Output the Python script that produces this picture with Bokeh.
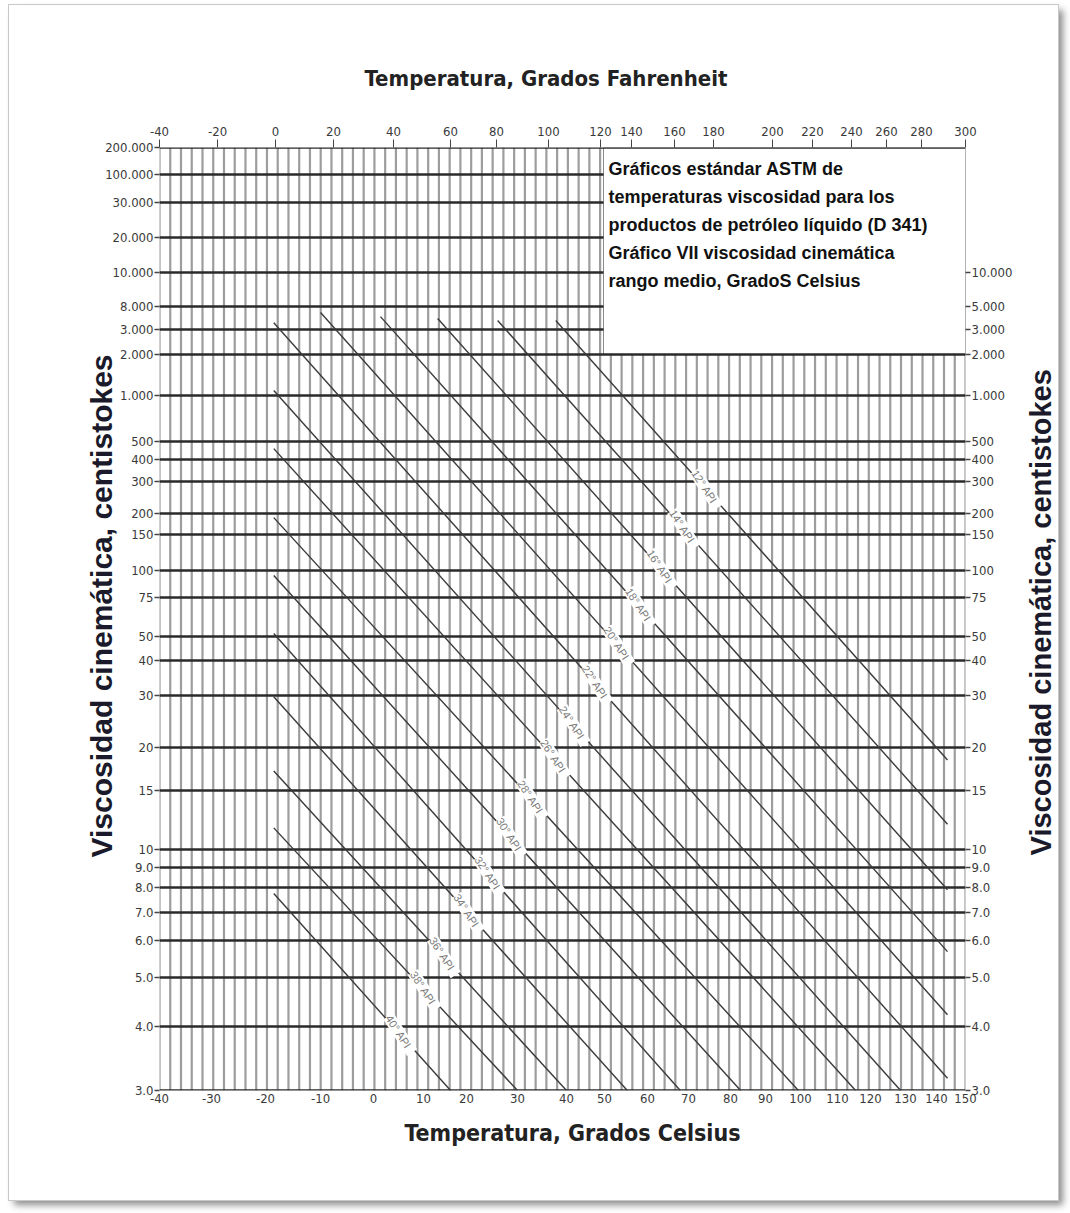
import numpy as np
from bokeh.plotting import figure
from bokeh.layouts import row
from bokeh.models import (Range1d, LinearAxis, FixedTicker, CustomJSTickFormatter,
                          ColumnDataSource, Title)
from bokeh.core.properties import value
from bokeh.embed import file_html
from bokeh.resources import INLINE

# ---------------------------------------------------------------------------
# Data: each API gravity is a straight line given by its two end points
# (temperature in degrees Celsius, kinematic viscosity in centistokes).
# ---------------------------------------------------------------------------
api_gravity = [12, 14, 16, 18, 20, 22, 24, 26, 28, 30, 32, 34, 36, 38, 40]
start_temp_c = [37.8, 26.1, 13.3, 1.4, -10.0, -18.5, -18.5, -18.5, -18.5,
                -18.5, -18.5, -18.5, -18.5, -18.5, -18.5]
start_visc = [4400, 4400, 4800, 5200, 6200, 4000, 1090, 458, 189,
              94.8, 51.6, 29.7, 17.1, 11.6, 7.75]
end_temp_c = [143.8, 143.8, 143.8, 143.8, 143.8, 143.8, 128.6, 115.5, 99.4,
              82.9, 68.0, 55.3, 40.0, 30.0, 16.3]
end_visc = [18.4, 11.9, 7.9, 5.68, 4.22, 3.17, 3.0, 3.0, 3.0,
            3.0, 3.0, 3.0, 3.0, 3.0, 3.0]

# ---------------------------------------------------------------------------
# Axis scales of the chart sheet (tick value -> fraction of the axis length)
# ---------------------------------------------------------------------------
celsius_ticks = [-40, -30, -20, -10, 0, 10, 20, 30, 40, 50, 60, 70, 80, 90,
                 100, 110, 120, 130, 140, 150]
celsius_at = [0.0, 0.0645, 0.1315, 0.1998, 0.2655, 0.3275, 0.3809, 0.4442,
              0.5050, 0.5521, 0.6055, 0.6563, 0.7084, 0.7519, 0.7953, 0.8412,
              0.8821, 0.9256, 0.9640, 1.0]

fahrenheit_ticks = [-40, -20, 0, 20, 40, 60, 80, 100, 120, 140, 160, 180,
                    200, 220, 240, 260, 280, 300]
fahrenheit_at = [0.0, 0.0720, 0.1439, 0.2159, 0.2903, 0.3610, 0.4181, 0.4826,
                 0.5471, 0.5856, 0.6390, 0.6873, 0.7605, 0.8102, 0.8586,
                 0.9020, 0.9454, 1.0]

visc_ticks = [3, 4, 5, 6, 7, 8, 9, 10, 15, 20, 30, 40, 50, 75, 100, 150, 200,
              300, 400, 500, 1000, 2000, 3000, 8000, 10000, 20000, 30000,
              100000, 200000]
visc_at = [0.0, 0.0679, 0.1198, 0.1591, 0.1888, 0.2153, 0.2365, 0.2556,
           0.3181, 0.3637, 0.4189, 0.4560, 0.4814, 0.5228, 0.5514, 0.5896,
           0.6119, 0.6458, 0.6691, 0.6882, 0.7370, 0.7805, 0.8070, 0.8314,
           0.8674, 0.9046, 0.9417, 0.9714, 1.0]
visc_left_labels = ["3.0", "4.0", "5.0", "6.0", "7.0", "8.0", "9.0", "10",
                    "15", "20", "30", "40", "50", "75", "100", "150", "200",
                    "300", "400", "500", "1.000", "2.000", "3.000", "8.000",
                    "10.000", "20.000", "30.000", "100.000", "200.000"]
visc_right_labels = ["3.0", "4.0", "5.0", "6.0", "7.0", "8.0", "9.0", "10",
                     "15", "20", "30", "40", "50", "75", "100", "150", "200",
                     "300", "400", "500", "1.000", "2.000", "3.000", "5.000",
                     "10.000", "", "", "", ""]

title_lines = [
    "Gráficos estándar ASTM de",
    "temperaturas viscosidad  para los",
    "productos de petróleo líquido (D 341)",
    "Gráfico VII viscosidad cinemática",
    "rango medio, GradoS Celsius",
]
visc_title = "Viscosidad cinemática, centistokes"


def chart_x(temp_c):
    return np.interp(temp_c, celsius_ticks, celsius_at)


def chart_y(visc):
    return np.interp(np.log10(visc), np.log10(visc_ticks), visc_at)


def tick_labels(positions, labels):
    return CustomJSTickFormatter(args=dict(pos=list(positions), labels=list(labels)), code="""
        let best = 0, d = Infinity;
        for (let i = 0; i < pos.length; i++) {
            const e = Math.abs(pos[i] - tick);
            if (e < d) { d = e; best = i; }
        }
        return labels[best];
    """)


# page: the sheet sits on the page with a thin edge and a drop shadow
PAGE_W, PAGE_H = 1070, 1213
M_TOP, M_RIGHT, M_BOTTOM, M_LEFT = 5, 12, 13, 9
SHEET_H = PAGE_H - M_TOP - M_BOTTOM
SPLIT = 1016                      # main figure | strip holding the right title
# chart frame on the page
LEFT, RIGHT, TOP, BOTTOM = 159, 965, 147, 1090
FW, FH = RIGHT - LEFT, BOTTOM - TOP

p = figure(width=SPLIT - M_LEFT, height=SHEET_H, x_range=Range1d(0, 1), y_range=Range1d(0, 1),
           title=None, output_backend="svg", toolbar_location=None,
           min_border_left=LEFT - M_LEFT, min_border_right=SPLIT - RIGHT,
           min_border_top=TOP - M_TOP, min_border_bottom=(PAGE_H - M_BOTTOM) - BOTTOM)
p.xgrid.visible = False
p.ygrid.visible = False
p.outline_line_color = None
p.background_fill_color = "white"
p.border_fill_color = "white"

TICK_FONT = "'DejaVu Sans Condensed', 'Liberation Sans', sans-serif"
TITLE_FONT = "'DejaVu Sans Condensed', 'Liberation Sans', sans-serif"
SANS = "Liberation Sans"


def style_axis(ax, tick_out):
    ax.axis_line_color = None
    ax.major_tick_out = tick_out
    ax.major_tick_in = 0
    ax.minor_tick_out = 0
    ax.minor_tick_in = 0
    ax.major_tick_line_color = "#444444"
    ax.major_tick_line_width = 1.5
    ax.major_label_text_font = TICK_FONT
    ax.major_label_text_font_size = "13px"
    ax.major_label_text_color = "#3a3a3a"


def side_title(text, font, size, color, standoff, offset):
    return Title(text=text, align="left", offset=offset, standoff=standoff,
                 text_font=font, text_font_style="bold", text_font_size=size,
                 text_color=color)


# bottom axis: Celsius
xa = p.xaxis[0]
xa.ticker = FixedTicker(ticks=celsius_at)
xa.formatter = tick_labels(celsius_at, [str(t) for t in celsius_ticks])
style_axis(xa, 0)
xa.major_label_standoff = 3
p.add_layout(side_title("Temperatura, Grados Celsius", TITLE_FONT, "23px", "#222222",
                        24, 245), "below")

# top axis: Fahrenheit
top = LinearAxis(ticker=FixedTicker(ticks=fahrenheit_at),
                 formatter=tick_labels(fahrenheit_at, [str(t) for t in fahrenheit_ticks]))
style_axis(top, 8)
top.major_tick_line_width = 1
top.major_label_standoff = 4
p.add_layout(top, "above")
p.add_layout(side_title("Temperatura, Grados Fahrenheit", TITLE_FONT, "22px", "#222222",
                        65, 205), "above")

# left axis: viscosity
ya = p.yaxis[0]
ya.ticker = FixedTicker(ticks=visc_at)
ya.formatter = tick_labels(visc_at, visc_left_labels)
style_axis(ya, 5)
ya.major_label_standoff = 1
p.add_layout(side_title(visc_title, SANS, "30px", "#1a1a2a", -31, 233), "left")

# right axis: viscosity (upper part of the scale hidden behind the caption)
right_at = [v for v, lab in zip(visc_at, visc_right_labels) if lab]
right_lab = [lab for lab in visc_right_labels if lab]
ra = LinearAxis(ticker=FixedTicker(ticks=right_at), formatter=tick_labels(right_at, right_lab))
style_axis(ra, 5)
ra.major_label_standoff = 1
p.add_layout(ra, "right")

# ---------------------------------------------------------------------------
# Chart paper: grey vertical rulings, white caption box, dark horizontal lines
# ---------------------------------------------------------------------------
n_cols = 75
col_x = np.linspace(0, 1, n_cols + 1)
p.segment(x0=col_x, y0=np.zeros_like(col_x), x1=col_x, y1=np.ones_like(col_x),
          line_color="#9d9d9d", line_width=2.2)

box_left = (603 - LEFT) / FW
box_bottom = chart_y(2000)
p.quad(left=[box_left], right=[1.0], bottom=[box_bottom], top=[1.0],
       fill_color="white", line_color="#8a8a8a", line_width=1)

row_y = np.array(visc_at)
row_right = np.where((row_y > box_bottom + 1e-6) & (row_y < 1 - 1e-6), box_left, 1.0)
p.segment(x0=np.zeros_like(row_y), y0=row_y, x1=row_right, y1=row_y,
          line_color="#2a2a2a", line_width=2.6)

# API gravity lines
x0 = chart_x(start_temp_c)
y0 = chart_y(start_visc)
x1 = chart_x(end_temp_c)
y1 = chart_y(end_visc)
src = ColumnDataSource(dict(x0=x0, y0=y0, x1=x1, y1=y1))
p.segment(x0="x0", y0="y0", x1="x1", y1="y1", source=src,
          line_color="#3a3a3a", line_width=1.4)

# labels sit where each line crosses a diagonal running through the chart
ax, ay = (714 - LEFT) / FW, (BOTTOM - 474) / FH
bx, by = (412 - LEFT) / FW, (BOTTOM - 1012) / FH
lab_x, lab_y = [], []
for i in range(len(api_gravity)):
    P0 = np.array([x0[i] * FW, y0[i] * FH])
    P1 = np.array([x1[i] * FW, y1[i] * FH])
    A = np.array([ax * FW, ay * FH])
    B = np.array([bx * FW, by * FH])
    M = np.column_stack([P1 - P0, A - B])
    s, _ = np.linalg.solve(M, A - P0)
    pt = P0 + s * (P1 - P0)
    lab_x.append(pt[0] / FW)
    lab_y.append(pt[1] / FH)
p.text(x=lab_x, y=lab_y, text=[f" {g}° API " for g in api_gravity],
       angle=np.deg2rad(-57), text_align="center", text_baseline="middle",
       text_font=value(SANS), text_font_size="11px",
       text_color="#7a7a7a", background_fill_color="white")

# caption inside the white box
cap_x = box_left + 5 / FW
cap_y = [(BOTTOM - (168 + 28 * i)) / FH for i in range(len(title_lines))]
p.text(x=[cap_x] * len(title_lines), y=cap_y, text=title_lines,
       text_align="left", text_baseline="middle",
       text_font=value(SANS), text_font_style="bold",
       text_font_size="18px", text_color="#111111")

# ---------------------------------------------------------------------------
# Narrow strip on the right carrying the viscosity title, reading upwards
# ---------------------------------------------------------------------------
STRIP_W = (PAGE_W - M_RIGHT) - SPLIT
strip = figure(width=STRIP_W, height=SHEET_H, x_range=Range1d(0, STRIP_W),
               y_range=Range1d(0, SHEET_H), title=None, output_backend="svg",
               toolbar_location=None, x_axis_type=None, y_axis_type=None,
               min_border=0)
strip.outline_line_color = None
strip.background_fill_color = "white"
strip.border_fill_color = "white"
strip.grid.visible = False
strip.text(x=[1040 - SPLIT], y=[(PAGE_H - M_BOTTOM) - 594], text=[visc_title],
           angle=np.pi / 2, text_align="center", text_baseline="middle",
           text_font=value(SANS), text_font_style="bold", text_font_size="29px",
           text_color="#1a1a2a")

sheet = row(p, strip, spacing=0)
sheet.margin = (M_TOP, M_RIGHT, M_BOTTOM, M_LEFT)
sheet.styles = {"box-shadow": "0 0 0 1px #c9c9c9, 5px 5px 7px rgba(0, 0, 0, 0.45)"}

open("out.html", "w").write(file_html(sheet, INLINE))
